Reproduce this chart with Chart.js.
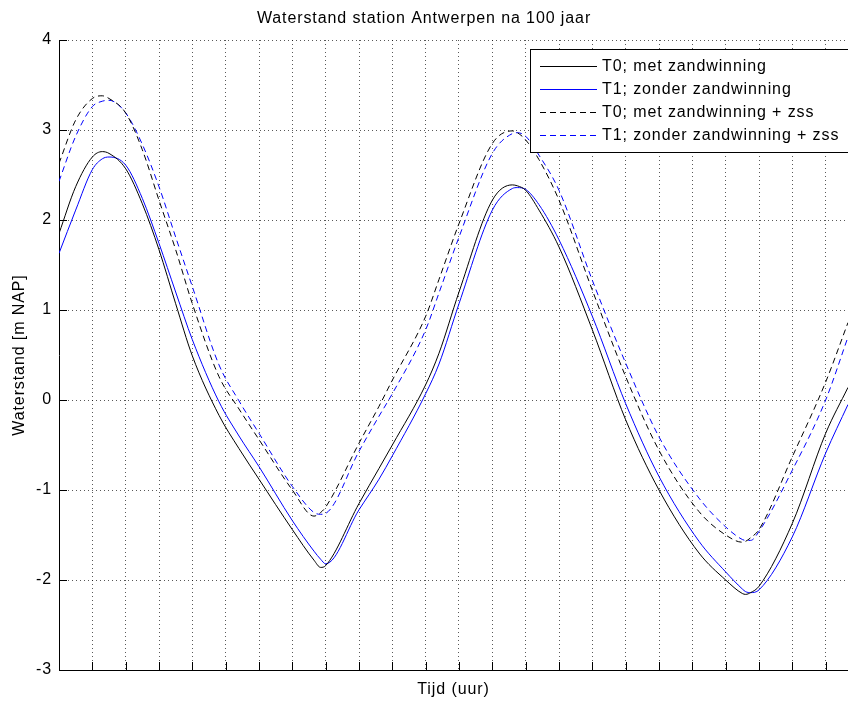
<!DOCTYPE html>
<html>
<head>
<meta charset="utf-8">
<script src="https://cdn.jsdelivr.net/npm/chart.js@4.4.0/dist/chart.umd.min.js"></script>
<style>
  html, body { margin: 0; padding: 0; background: #fff; }
  #wrap { width: 848px; height: 703px; }
</style>
</head>
<body>
<div id="wrap"><canvas id="myChart" width="848" height="703"></canvas></div>
<script>
'use strict';

// tijd in uren (x), waterstand in m NAP (y)
let tijd = [0, 0.5, 1, 1.3, 1.5, 2, 2.5, 3, 3.5, 4, 4.8, 5.4, 6, 7, 7.65, 7.85, 8, 9, 9.6, 10,
  11, 11.4, 12, 13, 13.6, 13.75, 14, 14.4, 15, 16, 17, 18, 19.2, 20, 20.5, 20.6, 20.75, 21, 22, 23, 23.67];

let t0Met = [1.85, 2.37, 2.70, 2.76, 2.74, 2.57, 2.18, 1.67, 1.07, 0.49, -0.17, -0.54, -0.88, -1.44, -1.78, -1.86, -1.84, -1.15, -0.76, -0.50,
  0.17, 0.52, 1.20, 2.22, 2.39, 2.38, 2.33, 2.11, 1.70, 0.78, -0.22, -1.00, -1.70, -2.00, -2.15, -2.16, -2.14, -2.07, -1.37, -0.37, 0.14];
let t1Zonder = [1.63, 2.11, 2.56, 2.68, 2.70, 2.61, 2.24, 1.74, 1.20, 0.67, -0.02, -0.40, -0.74, -1.34, -1.68, -1.77, -1.82, -1.22, -0.88, -0.62,
  0.07, 0.40, 1.07, 2.11, 2.35, 2.36, 2.34, 2.17, 1.78, 0.93, -0.04, -0.85, -1.57, -1.91, -2.10, -2.13, -2.14, -2.11, -1.52, -0.59, -0.05];
let t0MetZss = [2.63, 3.11, 3.35, 3.38, 3.35, 3.19, 2.78, 2.22, 1.67, 1.07, 0.26, -0.10, -0.44, -1.00, -1.29, -1.25, -1.19, -0.48, -0.07, 0.22,
  0.93, 1.34, 1.96, 2.85, 2.99, 2.97, 2.89, 2.67, 2.22, 1.22, 0.26, -0.56, -1.24, -1.50, -1.58, -1.57, -1.53, -1.44, -0.63, 0.20, 0.86];
let t1ZonderZss = [2.43, 2.93, 3.26, 3.32, 3.33, 3.19, 2.84, 2.37, 1.81, 1.26, 0.39, -0.01, -0.37, -0.96, -1.25, -1.27, -1.26, -0.57, -0.18, 0.07,
  0.78, 1.19, 1.81, 2.74, 2.96, 2.97, 2.93, 2.72, 2.33, 1.33, 0.41, -0.41, -1.09, -1.41, -1.55, -1.56, -1.56, -1.46, -0.78, 0.00, 0.70];

let labels = ['T0; met zandwinning', 'T1; zonder zandwinning', 'T0; met zandwinning + zss', 'T1; zonder zandwinning + zss'];
let yMin = -3;
let yMax = 4;
let xMax = 23.67;

let fontFam = '"Liberation Sans", Arial, Helvetica, sans-serif';
Chart.defaults.font.family = fontFam;
Chart.defaults.color = '#000';

function toPoints(vals) {
  let pts = [];
  for (let i = 0; i < tijd.length; i++) {
    pts.push({ x: tijd[i], y: vals[i] });
  }
  return pts;
}

function makeSet(label, vals, color, dash) {
  return {
    label: label,
    data: toPoints(vals),
    borderColor: color,
    borderWidth: 1,
    borderDash: dash,
    pointRadius: 0,
    fill: false,
    cubicInterpolationMode: 'monotone'
  };
}

// letters of matlab text are a bit wider
let spacingPlugin = {
  id: 'spacing',
  beforeDraw(chart) {
    chart.ctx.letterSpacing = '0.9px';
  }
};

// inside tick marks, like matlab
let tickPlugin = {
  id: 'innerTicks',
  afterDatasetsDraw(chart) {
    let ctx = chart.ctx;
    let area = chart.chartArea;
    let xs = chart.scales.x;
    let ys = chart.scales.y;
    ctx.save();
    ctx.strokeStyle = '#000';
    ctx.lineWidth = 1;
    ctx.setLineDash([]);
    ctx.beginPath();
    ys.ticks.forEach(function (t) {
      let py = Math.round(ys.getPixelForValue(t.value)) + 0.5;
      ctx.moveTo(area.left, py);
      ctx.lineTo(area.left + 8, py);
    });
    xs.ticks.forEach(function (t) {
      let px = Math.round(xs.getPixelForValue(t.value)) + 0.5;
      ctx.moveTo(px, area.bottom);
      ctx.lineTo(px, area.bottom - 8);
    });
    ctx.stroke();
    ctx.restore();
  }
};

// legend box in the upper right corner
let legendPlugin = {
  id: 'boxLegend',
  afterDatasetsDraw(chart) {
    let ctx = chart.ctx;
    let boxX = 530.5;
    let boxY = 49.5;
    let boxH = 103;
    let rowY = [66, 89, 112, 135];
    ctx.save();
    ctx.fillStyle = '#fff';
    ctx.fillRect(boxX, boxY, 330, boxH);
    ctx.strokeStyle = '#000';
    ctx.lineWidth = 1;
    ctx.strokeRect(boxX, boxY, 330, boxH);
    chart.data.datasets.forEach(function (ds, i) {
      ctx.beginPath();
      ctx.strokeStyle = ds.borderColor;
      ctx.setLineDash(ds.borderDash || []);
      ctx.moveTo(540, rowY[i] + 0.5);
      ctx.lineTo(597, rowY[i] + 0.5);
      ctx.stroke();
      ctx.setLineDash([]);
      ctx.fillStyle = '#000';
      ctx.font = '16px ' + fontFam;
      ctx.textBaseline = 'middle';
      ctx.textAlign = 'left';
      ctx.fillText(ds.label, 602, rowY[i] + 1);
    });
    ctx.restore();
  }
};

let ctx = document.getElementById('myChart').getContext('2d');
let myChart = new Chart(ctx, {
  type: 'line',
  data: {
    datasets: [
      makeSet(labels[0], t0Met, '#000000', []),
      makeSet(labels[1], t1Zonder, '#0000ff', []),
      makeSet(labels[2], t0MetZss, '#000000', [6, 4]),
      makeSet(labels[3], t1ZonderZss, '#0000ff', [6, 4])
    ]
  },
  plugins: [spacingPlugin, tickPlugin, legendPlugin],
  options: {
    responsive: false,
    animation: false,
    layout: { padding: 0 },
    plugins: {
      legend: { display: false },
      tooltip: { enabled: false },
      title: {
        display: true,
        text: 'Waterstand station Antwerpen na 100 jaar',
        color: '#000',
        font: { size: 16, weight: 'normal', lineHeight: 1.2 },
        padding: { top: 9, bottom: 11.8 }
      }
    },
    scales: {
      x: {
        type: 'linear',
        min: 0,
        max: xMax,
        ticks: { display: false, stepSize: 1, includeBounds: false },
        grid: { color: 'rgba(0,0,0,0.65)', lineWidth: 1, drawTicks: false },
        border: { display: true, color: '#000', width: 1, dash: [1, 3] },
        title: {
          display: true,
          text: 'Tijd (uur)',
          color: '#000',
          font: { size: 16, lineHeight: 1.2 },
          padding: { top: 0, bottom: 3.4 }
        },
        afterFit: function (scale) { scale.height = 33; }
      },
      y: {
        min: yMin,
        max: yMax,
        ticks: { stepSize: 1, padding: 7, color: '#000', font: { size: 16 } },
        grid: { color: 'rgba(0,0,0,0.65)', lineWidth: 1, drawTicks: false },
        border: { display: true, color: '#000', width: 1, dash: [1, 3] },
        title: {
          display: true,
          text: 'Waterstand [m NAP]',
          color: '#000',
          font: { size: 16, lineHeight: 1.2 },
          padding: { top: 9.5, bottom: 0 }
        },
        afterFit: function (scale) { scale.width = 59; }
      }
    }
  }
});
</script>
</body>
</html>
